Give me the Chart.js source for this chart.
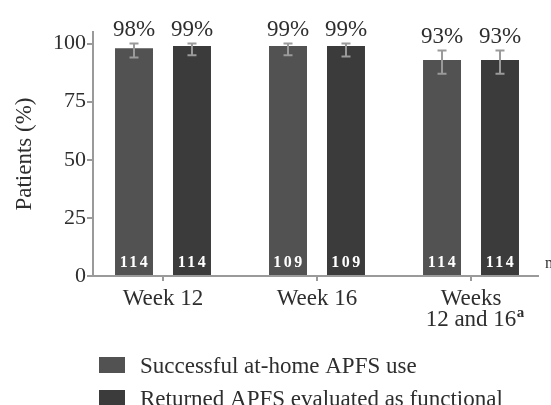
<!DOCTYPE html>
<html><head><meta charset="utf-8">
<script src="https://cdn.jsdelivr.net/npm/chart.js@4"></script>
<style>html,body{margin:0;padding:0;background:#fff}#wrap{width:551px;height:405px;position:relative}</style>
</head><body><div id="wrap"><canvas id="c"></canvas></div>
<script>
// ---- data ----
const categories = [["Week 12"], ["Week 16"], ["Weeks", "12 and 16"]];
const footnoteMarks = ["", "", "a"];
const seriesNames = ["Successful at-home APFS use", "Returned APFS evaluated as functional"];
const successValues = [98, 99, 93];
const returnedValues = [99, 99, 93];
const successErrLow = [94, 95, 87];
const successErrHigh = [100, 100, 97];
const returnedErrLow = [95, 94.5, 87];
const returnedErrHigh = [100, 100, 97];
const successN = [114, 109, 114];
const returnedN = [114, 109, 114];
const yTicks = [0, 25, 50, 75, 100];
const yTitle = "Patients (%)";

// ---- styles ----
const SERIF = "'Liberation Serif', 'Times New Roman', serif";
const TEXT = "#2e2e2e";
const AXIS = "#9a9a9a";
const colors = ["#525252", "#3b3b3b"];
const XFONT = 23, XLINE = 21, XPAD = 7, XTICK = 5;

const errLow = [successErrLow, returnedErrLow];
const errHigh = [successErrHigh, returnedErrHigh];
const counts = [successN, returnedN];

const overlay = {
  id: 'overlay',
  afterDatasetsDraw(chart) {
    const ctx = chart.ctx;
    const ys = chart.scales.y;
    chart.data.datasets.forEach((ds, di) => {
      const meta = chart.getDatasetMeta(di);
      meta.data.forEach((bar, i) => {
        const x = bar.x;
        const yl = ys.getPixelForValue(errLow[di][i]);
        const yh = ys.getPixelForValue(errHigh[di][i]);
        ctx.save();
        ctx.strokeStyle = AXIS; ctx.lineWidth = 2;
        ctx.beginPath();
        ctx.moveTo(x, yl); ctx.lineTo(x, yh);
        ctx.moveTo(x - 4.5, yl); ctx.lineTo(x + 4.5, yl);
        ctx.moveTo(x - 4.5, yh); ctx.lineTo(x + 4.5, yh);
        ctx.stroke();
        // value label
        ctx.fillStyle = TEXT;
        ctx.font = "23px " + SERIF;
        ctx.textAlign = 'center'; ctx.textBaseline = 'alphabetic';
        ctx.fillText(ds.data[i].y + "%", x, yh - 8);
        // n label
        ctx.fillStyle = "#ffffff";
        ctx.font = "bold 16px " + SERIF;
        ctx.letterSpacing = "2.5px";
        ctx.fillText(String(counts[di][i]), x + 1, ys.getPixelForValue(0) - 9);
        ctx.restore();
      });
    });
  },
  afterDraw(chart) {
    const ctx = chart.ctx;
    const xs = chart.scales.x;
    ctx.save();
    // footnote superscripts on category labels
    categories.forEach((lines, i) => {
      if (!footnoteMarks[i]) return;
      const x = xs.getPixelForValue(i);
      ctx.font = XFONT + "px " + SERIF;
      const last = lines[lines.length - 1];
      const w = ctx.measureText(last).width;
      const baseline = xs.top + XTICK + XPAD + (lines.length - 1) * XLINE + 0.891 * XFONT;
      ctx.font = "bold 15px " + SERIF;
      ctx.fillStyle = TEXT;
      ctx.textAlign = 'left'; ctx.textBaseline = 'alphabetic';
      ctx.fillText(footnoteMarks[i], x + w / 2 + 0.5, baseline - 12);
    });
    // legend
    chart.data.datasets.forEach((ds, di) => {
      const top = 357 + di * 33;
      ctx.fillStyle = ds.backgroundColor;
      ctx.fillRect(99, top, 26, 16);
      ctx.fillStyle = TEXT;
      ctx.font = "23px " + SERIF;
      ctx.textAlign = 'left'; ctx.textBaseline = 'alphabetic';
      ctx.fillText(ds.label, 140, top + 16);
    });
    // clipped stray glyph at right edge
    ctx.font = "16px " + SERIF;
    ctx.fillStyle = TEXT;
    ctx.fillText("m", 545, 268);
    ctx.restore();
  }
};

const mk = (vals) => vals.map((v, i) => ({ x: i, y: v }));

new Chart(document.getElementById('c'), {
  type: 'bar',
  data: {
    datasets: [
      { label: seriesNames[0], data: mk(successValues), backgroundColor: colors[0] },
      { label: seriesNames[1], data: mk(returnedValues), backgroundColor: colors[1] }
    ]
  },
  options: {
    responsive: true,
    maintainAspectRatio: false,
    animation: false,
    events: [],
    categoryPercentage: 0.753,
    barPercentage: 0.655,
    layout: { padding: { left: 0, right: 13, top: 32, bottom: 0 } },
    plugins: { legend: { display: false }, tooltip: { enabled: false } },
    scales: {
      x: {
        type: 'linear',
        offset: false,
        min: -0.4545,
        max: 2.435,
        afterBuildTicks: (s) => { s.ticks = categories.map((_, i) => ({ value: i })); },
        afterFit: (s) => { s.height = 129; },
        ticks: {
          autoSkip: false, maxRotation: 0, padding: XPAD,
          color: TEXT,
          font: { family: SERIF, size: XFONT, lineHeight: XLINE / XFONT },
          callback: (v) => categories[v]
        },
        grid: { offset: false, drawOnChartArea: false, drawTicks: true, tickLength: XTICK, color: AXIS, lineWidth: 2 },
        border: { display: true, color: AXIS, width: 2 }
      },
      y: {
        min: 0, max: 105,
        afterBuildTicks: (s) => { s.ticks = yTicks.map(v => ({ value: v })); },
        afterFit: (s) => { s.width = 93; },
        ticks: { color: TEXT, padding: 1, font: { family: SERIF, size: 22 } },
        grid: { drawOnChartArea: false, drawTicks: true, tickLength: 6, color: AXIS, lineWidth: 2 },
        border: { display: true, color: AXIS, width: 2 },
        title: { display: true, text: yTitle, color: TEXT, font: { family: SERIF, size: 23 }, padding: { top: 11, bottom: 0 } }
      }
    }
  },
  plugins: [overlay]
});
</script></body></html>
